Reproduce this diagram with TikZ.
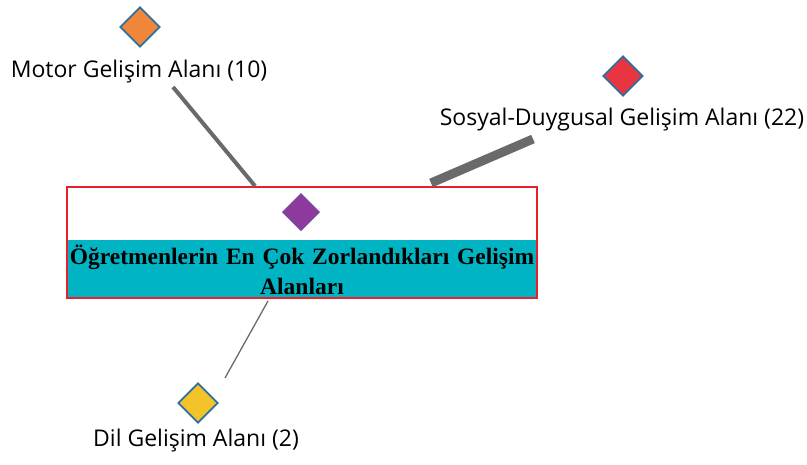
\documentclass[tikz,border=0pt]{standalone}
\usepackage{fontspec}
\setmainfont{Liberation Serif}
\newfontfamily\etiketfont{Open Sans}
\usetikzlibrary{shapes.geometric}

\definecolor{kenar}{HTML}{2F6FA0}
\definecolor{turuncu}{HTML}{F0863A}
\definecolor{kirmizi}{HTML}{E8353F}
\definecolor{mor}{HTML}{8E3A9C}
\definecolor{sari}{HTML}{F2C42A}
\definecolor{camgobegi}{HTML}{00B4C4}
\definecolor{cizgi}{HTML}{6A6A6A}
\definecolor{cerceve}{HTML}{E8202A}

\tikzset{
  alan/.style={shape=diamond, aspect=1, inner sep=0pt, minimum size=40pt,
    draw=kenar, line width=1.8pt},
  etiket/.style={font=\etiketfont\fontsize{23}{26}\selectfont, inner sep=0pt},
  bag/.style={draw=cizgi, line cap=butt}
}

\begin{document}
\begin{tikzpicture}[x=1pt,y=-1pt]
  \useasboundingbox (0,0) rectangle (807,464);

  % ana kutu
  \fill[camgobegi] (67,240) rectangle (537,298);
  \node[draw=cerceve, line width=1.3pt, minimum width=470pt, minimum height=111pt,
    inner sep=0pt] (kutu) at (302,242.5) {};
  \node[alan, draw=mor!70!kenar, line width=1pt, fill=mor, minimum size=37pt] (merkez) at (301,212) {};
  \node[font=\bfseries\fontsize{23.5}{30}\selectfont, align=center, text width=470pt,
    inner sep=0pt] (baslik) at (302,270)
    {Öğretmenlerin En Çok Zorlandıkları Gelişim\\Alanları};

  % alanlar
  \node[alan, fill=turuncu] (motor) at (140,27) {};
  \node[etiket] (motorlbl) at (139,72) {Motor Gelişim Alanı (10)};
  \node[alan, fill=kirmizi] (sosyal) at (623,76) {};
  \node[etiket] (sosyallbl) at (622,120) {Sosyal-Duygusal Gelişim Alanı (22)};
  \node[alan, fill=sari] (dil) at (198,403) {};
  \node[etiket] (dillbl) at (196,441) {Dil Gelişim Alanı (2)};

  % baglar
  \coordinate (m1) at (173,87);
  \coordinate (m2) at (255,186);
  \coordinate (s1) at (533,139);
  \coordinate (s2) at (431,183);
  \coordinate (d1) at (268,301);
  \coordinate (d2) at (225,378);
  \draw[bag, line width=4pt] (m1) -- (m2);
  \draw[bag, line width=9pt] (s1) -- (s2);
  \draw[bag, line width=1.3pt] (d1) -- (d2);
\end{tikzpicture}
\end{document}
